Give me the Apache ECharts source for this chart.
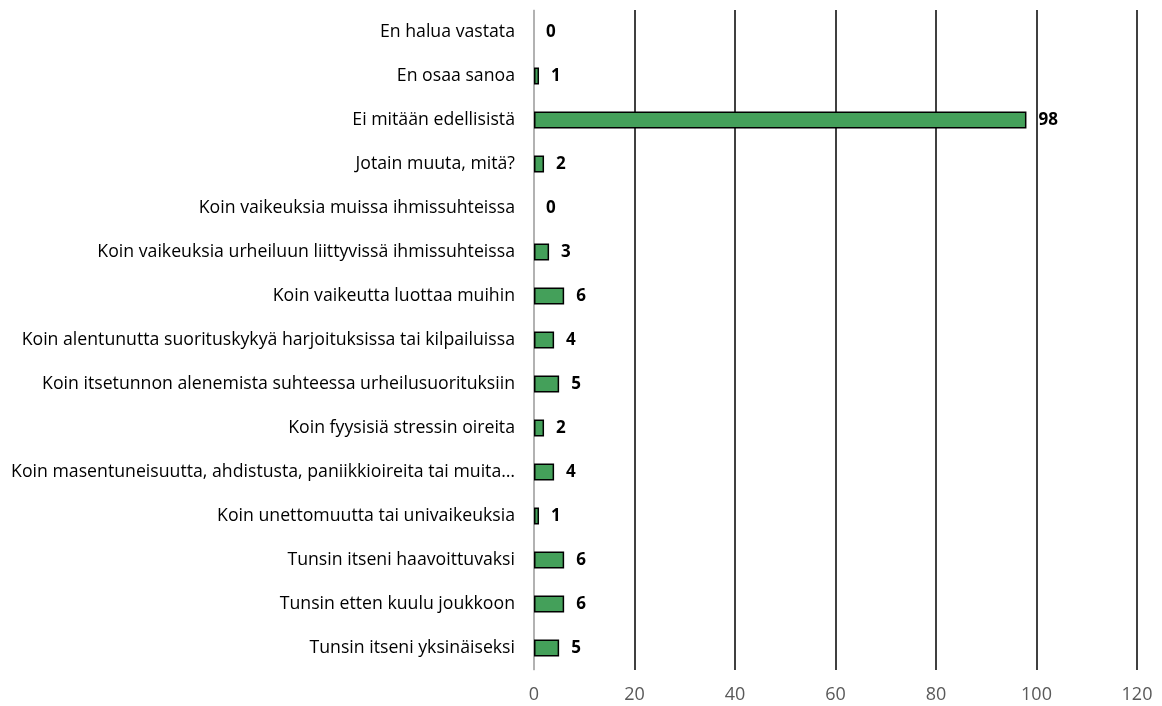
<!DOCTYPE html>
<html><head><meta charset="utf-8">
<script src="https://cdn.jsdelivr.net/npm/echarts@6/dist/echarts.min.js"></script>
<style>html,body{margin:0;padding:0;background:#fff}#c{width:1162px;height:706px}</style>
</head><body><div id="c"></div>
<script>
const categories = [
  "En halua vastata",
  "En osaa sanoa",
  "Ei mitään edellisistä",
  "Jotain muuta, mitä?",
  "Koin vaikeuksia muissa ihmissuhteissa",
  "Koin vaikeuksia urheiluun liittyvissä ihmissuhteissa",
  "Koin vaikeutta luottaa muihin",
  "Koin alentunutta suorituskykyä harjoituksissa tai kilpailuissa",
  "Koin itsetunnon alenemista suhteessa urheilusuorituksiin",
  "Koin fyysisiä stressin oireita",
  "Koin masentuneisuutta, ahdistusta, paniikkioireita tai muita…",
  "Koin unettomuutta tai univaikeuksia",
  "Tunsin itseni haavoittuvaksi",
  "Tunsin etten kuulu joukkoon",
  "Tunsin itseni yksinäiseksi"
];
const values = [0, 1, 98, 2, 0, 3, 6, 4, 5, 2, 4, 1, 6, 6, 5];
const xTicks = {min: 0, max: 120, interval: 20};

const chart = echarts.init(document.getElementById('c'), null, {renderer: 'canvas'});
const font = '"Open Sans", Lato, sans-serif';
chart.setOption({
  animation: false,
  grid: {left: 534, right: 25, top: 10, bottom: 36, containLabel: false, outerBoundsMode: 'none'},
  xAxis: {
    type: 'value', min: xTicks.min, max: xTicks.max, interval: xTicks.interval,
    axisLine: {show: false}, axisTick: {show: false},
    splitLine: {show: true, lineStyle: {color: '#000', width: 1.5}},
    axisLabel: {color: '#595959', fontSize: 18, fontFamily: font, margin: 16}
  },
  yAxis: {
    type: 'category', data: categories, inverse: true,
    axisLine: {show: true, lineStyle: {color: '#d9d9d9', width: 1.5}},
    axisTick: {show: false},
    axisLabel: {color: '#000', fontSize: 17.7, fontFamily: font, margin: 19}
  },
  series: [{
    type: 'bar', barWidth: 17,
    data: values.map(v => ({value: v, itemStyle: {borderWidth: v === 0 ? 0 : 1.5}})),
    itemStyle: {color: '#44a05a', borderColor: '#000', borderWidth: 1.5},
    label: {show: true, position: 'right', distance: 12, fontWeight: 'bold',
      fontSize: 17, fontFamily: font, color: '#000'}
  }]
});
</script></body></html>
